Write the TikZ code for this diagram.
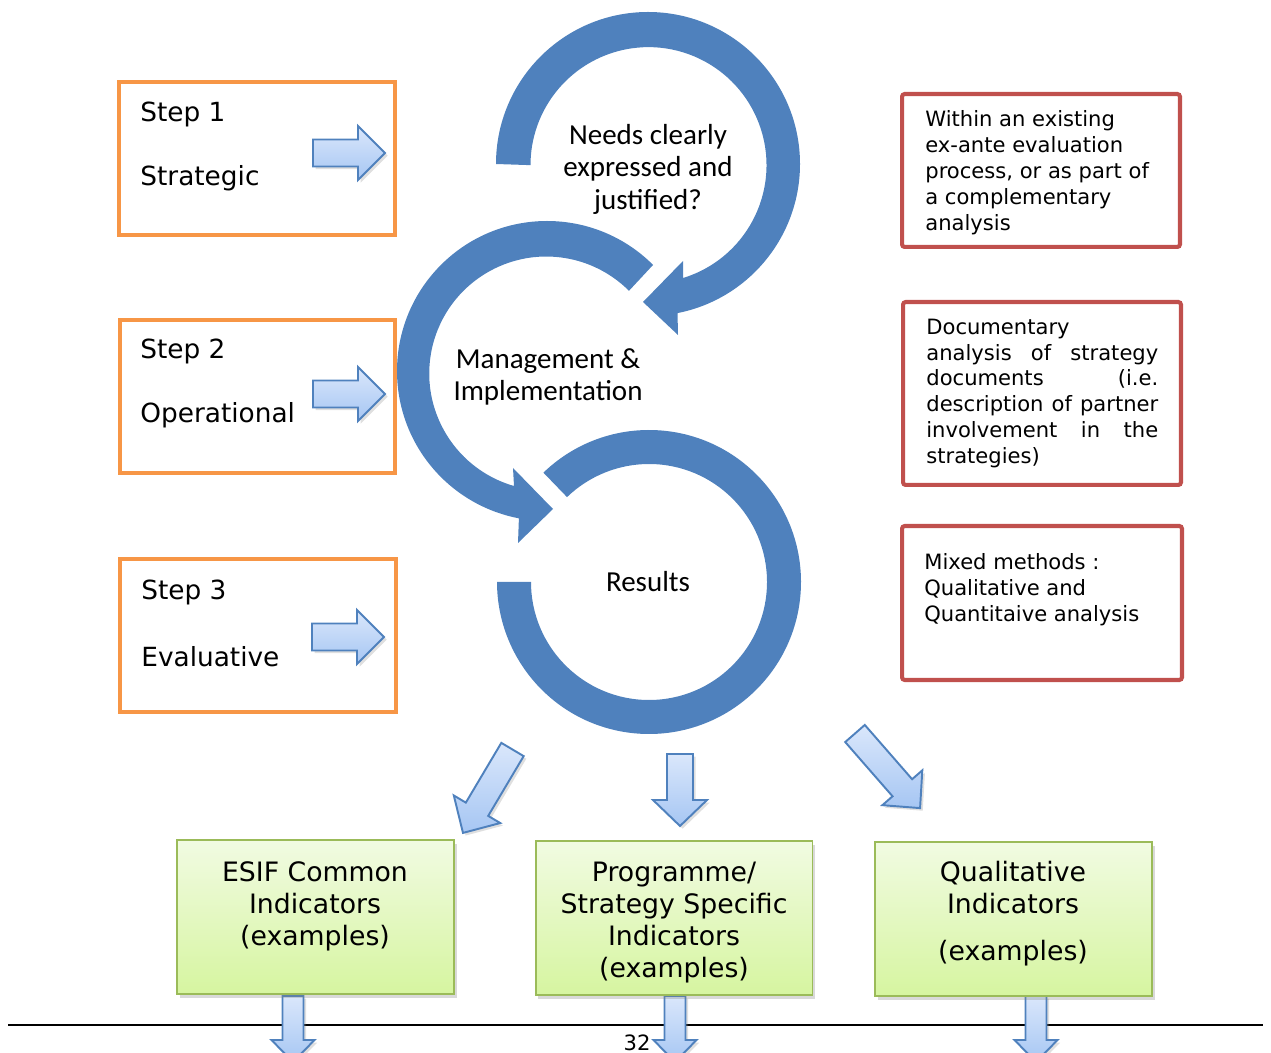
\documentclass[tikz,border=0pt]{standalone}
\usepackage{fontspec}
\setmainfont{DejaVu Sans}
\newfontfamily\calfont{Carlito}
\usetikzlibrary{shadows}
\definecolor{cycblue}{HTML}{4F81BD}
\definecolor{steporange}{HTML}{F79646}
\definecolor{notered}{HTML}{C0504D}
\definecolor{indgreen}{HTML}{9BBB59}
\definecolor{indtop}{HTML}{F1FBE2}
\definecolor{indbot}{HTML}{D6F5A0}
\definecolor{arrtop}{HTML}{DAE7FB}
\definecolor{arrbot}{HTML}{A6C6F3}

\begin{document}
\begin{tikzpicture}[x=0.02cm,y=-0.02cm,
    stepbox/.style={draw=steporange, line width=2.3pt, minimum width=5.52cm, minimum height=3.06cm, inner sep=0},
    notebox/.style={draw=notered, line width=2.3pt, rounded corners=1.5pt, minimum width=5.56cm, inner sep=0},
    indbox/.style={draw=indgreen, line width=1.1pt, top color=indtop, bottom color=indbot,
      minimum width=5.54cm, minimum height=3.08cm, drop shadow={opacity=0.3, shadow xshift=1.5pt, shadow yshift=-2pt}},
    steptxt/.style={anchor=base west, inner sep=0, font=\fontsize{15}{18}\selectfont},
    notetxt/.style={anchor=north west, inner sep=0, align=left, font=\fontsize{12}{14.7}\selectfont},
    cyctxt/.style={anchor=north, inner sep=0, align=center, font=\calfont\fontsize{16.5}{18.4}\selectfont},
    indtxt/.style={anchor=north, inner sep=0, align=center, font=\fontsize{15.2}{18.2}\selectfont},
    barrow/.style={draw=cycblue, line width=1.1pt, line join=miter, top color=arrtop, bottom color=arrbot,
      drop shadow={opacity=0.25, shadow xshift=1.5pt, shadow yshift=-1.5pt}},
    pics/blockarrow/.style n args={4}{code={
      \path[barrow] (0,-#2) -- (#1-#4,-#2) -- (#1-#4,-#3) -- (#1,0) -- (#1-#4,#3) -- (#1-#4,#2) -- (0,#2) -- cycle;}}]
  \useasboundingbox (0,0) rectangle (1271,1053);
  \clip (0,0) rectangle (1271,1053);

  \node[stepbox] (step1) at (257,158.5) {};
  \node[stepbox] (step2) at (257.5,396.5) {};
  \node[stepbox] (step3) at (258,635.5) {};
  \node[steptxt] (step1a) at (140,122) {Step 1};
  \node[steptxt] (step1b) at (140,186) {Strategic};
  \node[steptxt] (step2a) at (140,359) {Step 2};
  \node[steptxt] (step2b) at (140,423) {Operational};
  \node[steptxt] (step3a) at (141,600) {Step 3};
  \node[steptxt] (step3b) at (141,666) {Evaluative};
  \pic (arr1) at (313,153) {blockarrow={72}{13.5}{27}{27}};
  \pic (arr2) at (313,394) {blockarrow={72}{13.5}{27}{27}};
  \pic (arr3) at (312,637) {blockarrow={72}{13.5}{27}{27}};

  \node[notebox, minimum height=3.06cm] (note1) at (1041,170.5) {};
  \node[notebox, minimum height=3.66cm] (note2) at (1042,393.5) {};
  \node[notebox, minimum height=3.08cm, minimum width=5.6cm] (note3) at (1042,603) {};
  \node[notetxt] (note1t) at (925,110.5) {Within an existing\\ex-ante evaluation\\process, or as part of\\a complementary\\analysis};
  \node[notetxt] (note2t) at (926,318.5) {Documentary\\\hbox to 4.64cm{analysis\hfill of\hfill strategy}\\
    \hbox to 4.64cm{documents\hfill (i.e.}\\\hbox to 4.64cm{description\hfill of\hfill partner}\\
    \hbox to 4.64cm{involvement\hfill in\hfill the}\\strategies)};
  \node[notetxt] (note3t) at (924,553.5) {Mixed methods :\\Qualitative and\\Quantitaive analysis};

  \fill[cycblue] (648,164) ++(180:152) arc[start angle=180, end angle=438.8, radius=152]
    -- (678,335) -- (643,302) -- (683,261) -- (683,278)
    arc[start angle=433, end angle=180, radius=118] -- cycle;
  \fill[cycblue] (547,371) ++(-45:150) arc[start angle=-45, end angle=-259.2, radius=150]
    -- (518,543) -- (553,509) -- (513,468) -- (514,486)
    arc[start angle=-254, end angle=-45, radius=117] -- cycle;
  \fill[cycblue] (649,582) ++(226:152) arc[start angle=226, end angle=540, radius=152]
    -- ++(34,0) arc[start angle=540, end angle=226, radius=118] -- cycle;
  \node[cyctxt] (needs) at (648,124) {Needs clearly\\expressed and\\justified?};
  \node[cyctxt] (manage) at (548,348) {Management \&\\Implementation};
  \node[cyctxt, anchor=base] (results) at (648,592) {Results};

  \pic[rotate=239.3] (arrl) at (512.5,749.5) {blockarrow={97}{13}{27}{27.5}};
  \pic[rotate=-90] (arrm) at (680,754) {blockarrow={72}{13}{27}{26}};
  \pic[rotate=-48.9] (arrr) at (855,733.5) {blockarrow={99}{13}{26.5}{27}};

  \draw[line width=1.1pt] (8,1025) -- (1263,1025);
  \pic[rotate=-90] (out1) at (293,996) {blockarrow={66}{10.5}{21.5}{22}};
  \pic[rotate=-90] (out2) at (675,996) {blockarrow={66}{10.5}{21.5}{22}};
  \pic[rotate=-90] (out3) at (1036,996) {blockarrow={66}{10.5}{21.5}{22}};
  \node[indbox] (ind1) at (315.5,917) {};
  \node[indbox] (ind2) at (674,918) {};
  \node[indbox] (ind3) at (1013.5,919) {};
  \node[indtxt] (ind1t) at (315,861) {ESIF Common\\Indicators\\(examples)};
  \node[indtxt] (ind2t) at (674,862) {Programme/\\Strategy Specific\\Indicators\\(examples)};
  \node[indtxt] (ind3t) at (1013,861) {Qualitative\\Indicators\\[8.5pt](examples)};
  \node[anchor=base, inner sep=0, font=\fontsize{12}{14}\selectfont] (page) at (637,1050) {32};
\end{tikzpicture}
\end{document}
